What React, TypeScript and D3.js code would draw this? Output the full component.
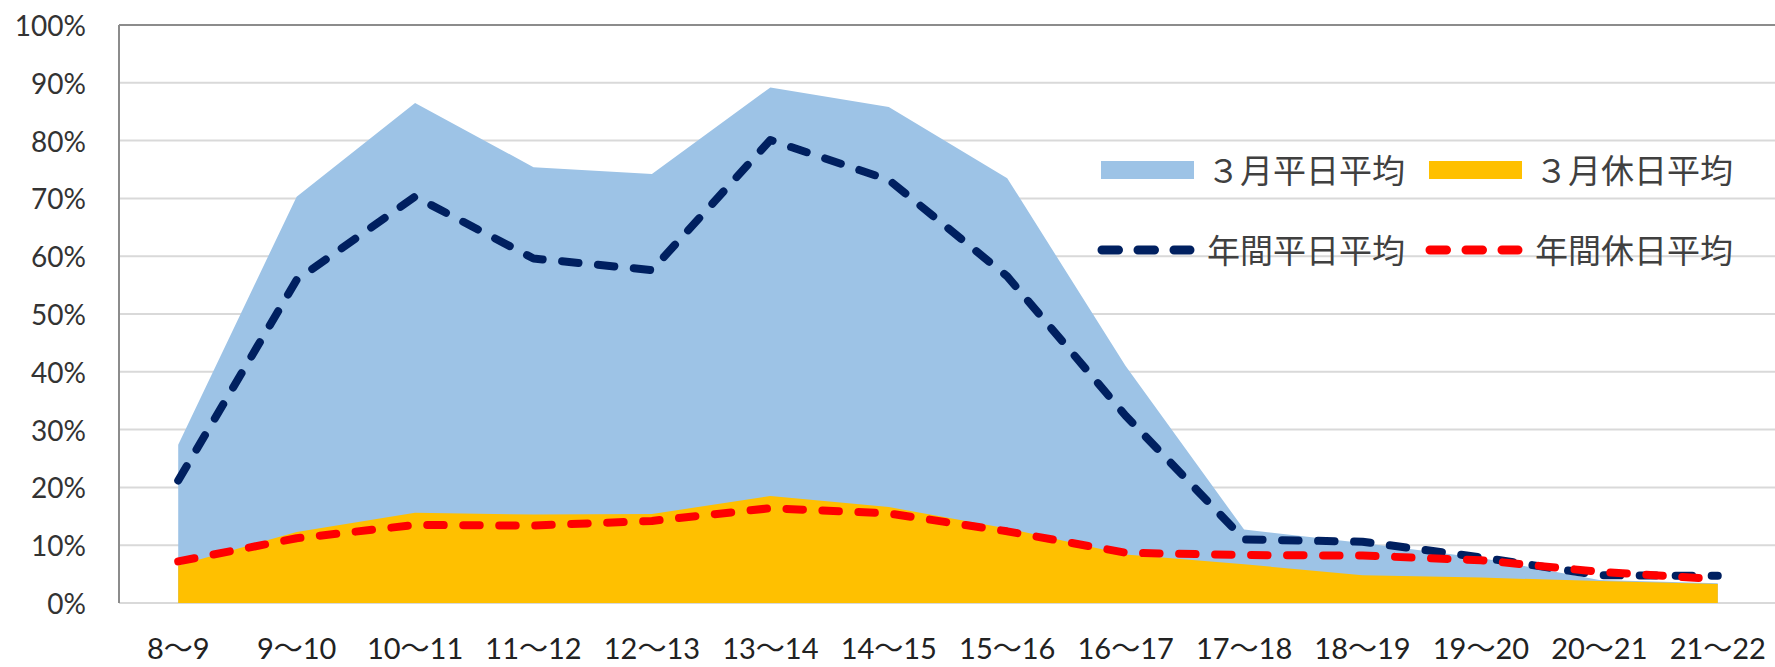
import * as d3 from 'd3';

// time slots (x axis)
const categories = [
  '8〜9', '9〜10', '10〜11', '11〜12', '12〜13', '13〜14', '14〜15',
  '15〜16', '16〜17', '17〜18', '18〜19', '19〜20', '20〜21', '21〜22',
];

// values in %
const marchWeekday = [27.4, 70.3, 86.5, 75.4, 74.2, 89.2, 85.8, 73.5, 41.0, 12.7, 10.4, 7.8, 4.0, 3.4];
const marchHoliday = [6.5, 12.3, 15.6, 15.3, 15.4, 18.5, 16.6, 12.9, 8.4, 6.7, 4.8, 4.4, 3.8, 3.3];
const yearWeekday = [21.2, 55.9, 70.3, 59.6, 57.6, 80.1, 73.2, 56.5, 32.4, 11.0, 10.6, 7.9, 4.8, 4.7];
const yearHoliday = [7.2, 11.2, 13.5, 13.4, 14.2, 16.4, 15.5, 12.4, 8.7, 8.3, 8.2, 7.4, 5.4, 4.1];

const yTicks = [0, 10, 20, 30, 40, 50, 60, 70, 80, 90, 100];

const W = 1775;
const H = 667;
const LEFT = 119;
const RIGHT = 1777;
const TOP = 25;
const BOTTOM = 603;

const LATIN = "Lato, 'Noto Sans CJK JP', sans-serif";
const CJK = "'Noto Sans CJK JP', sans-serif";

export default function App() {
  const x = d3.scaleBand<string>().domain(categories).range([LEFT, RIGHT]);
  const cx = (i: number) => (x(categories[i]) as number) + x.bandwidth() / 2;
  const y = d3.scaleLinear().domain([0, 100]).range([BOTTOM, TOP]);

  const area = d3
    .area<number>()
    .x((_, i) => cx(i))
    .y0(y(0))
    .y1((d) => y(d));
  const line = d3
    .line<number>()
    .x((_, i) => cx(i))
    .y((d) => y(d));

  const dash = '16.5 19.5';

  return (
    <svg
      width={W}
      height={H}
      style={{ position: 'absolute', left: 0, top: 0, background: '#fff' }}
    >
      {/* grid */}
      {yTicks.map((t) => (
        <line
          key={t}
          x1={LEFT}
          x2={RIGHT}
          y1={y(t)}
          y2={y(t)}
          stroke={t === 100 ? '#8c8c8c' : '#d9d9d9'}
          strokeWidth={2}
        />
      ))}
      <line x1={LEFT} x2={LEFT} y1={TOP} y2={BOTTOM} stroke="#8c8c8c" strokeWidth={2} />

      {/* y labels */}
      {yTicks.map((t) => (
        <text
          key={t}
          x={86}
          y={y(t)}
          textAnchor="end"
          dominantBaseline="central"
          fontFamily={LATIN}
          fontSize={28}
          fill="#333"
        >
          {t}%
        </text>
      ))}

      {/* areas */}
      <path d={area(marchWeekday) as string} fill="#9dc3e6" />
      <path d={area(marchHoliday) as string} fill="#ffc000" />

      {/* dashed lines */}
      <path
        d={line(yearWeekday) as string}
        fill="none"
        stroke="#002060"
        strokeWidth={8}
        strokeDasharray={dash}
        strokeLinecap="round"
        strokeLinejoin="round"
      />
      <path
        d={line(yearHoliday) as string}
        fill="none"
        stroke="#ff0000"
        strokeWidth={8}
        strokeDasharray={dash}
        strokeLinecap="round"
        strokeLinejoin="round"
      />

      {/* x labels */}
      {categories.map((c, i) => (
        <text
          key={c}
          x={cx(i)}
          y={659}
          textAnchor="middle"
          fontFamily={LATIN}
          fontSize={29}
          fill="#222"
        >
          {c}
        </text>
      ))}

      {/* legend */}
      <rect x={1101} y={161} width={93} height={18} fill="#9dc3e6" />
      <text x={1207} y={169} dominantBaseline="central" fontFamily={CJK} fontSize={33} fill="#404040">
        ３月平日平均
      </text>
      <rect x={1429} y={161} width={93} height={18} fill="#ffc000" />
      <text x={1535} y={169} dominantBaseline="central" fontFamily={CJK} fontSize={33} fill="#404040">
        ３月休日平均
      </text>

      <line
        x1={1102}
        x2={1190}
        y1={250}
        y2={250}
        stroke="#002060"
        strokeWidth={9}
        strokeDasharray={dash}
        strokeLinecap="round"
      />
      <text x={1207} y={249} dominantBaseline="central" fontFamily={CJK} fontSize={33} fill="#404040">
        年間平日平均
      </text>
      <line
        x1={1430}
        x2={1518}
        y1={250}
        y2={250}
        stroke="#ff0000"
        strokeWidth={9}
        strokeDasharray={dash}
        strokeLinecap="round"
      />
      <text x={1535} y={249} dominantBaseline="central" fontFamily={CJK} fontSize={33} fill="#404040">
        年間休日平均
      </text>
    </svg>
  );
}
